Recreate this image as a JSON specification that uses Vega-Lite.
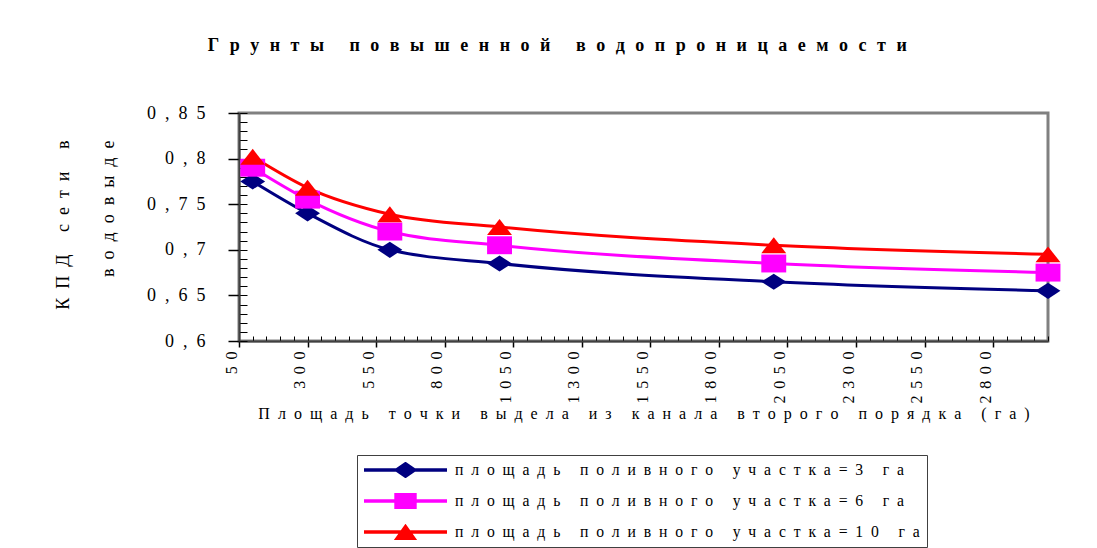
{
  "$schema": "https://vega.github.io/schema/vega-lite/v6.json",
  "width": 809,
  "height": 228,
  "autosize": {"type": "none"},
  "padding": {"left": 239, "top": 113, "right": 49, "bottom": 207},
  "background": "white",
  "title": {
    "text": {"expr": "join(split('Грунты повышенной водопроницаемости', ''), '\u2004\u2005')"},
    "font": "Liberation Serif",
    "fontSize": 18,
    "fontWeight": "bold",
    "color": "black",
    "anchor": "middle",
    "frame": "bounds",
    "offset": 49
  },
  "data": {
    "values": [
      {"x": 100, "y": 0.775, "series": "площадь поливного участка=3 га"},
      {"x": 300, "y": 0.74, "series": "площадь поливного участка=3 га"},
      {"x": 600, "y": 0.70, "series": "площадь поливного участка=3 га"},
      {"x": 1000, "y": 0.685, "series": "площадь поливного участка=3 га"},
      {"x": 2000, "y": 0.665, "series": "площадь поливного участка=3 га"},
      {"x": 3000, "y": 0.655, "series": "площадь поливного участка=3 га"},
      {"x": 100, "y": 0.79, "series": "площадь поливного участка=6 га"},
      {"x": 300, "y": 0.755, "series": "площадь поливного участка=6 га"},
      {"x": 600, "y": 0.72, "series": "площадь поливного участка=6 га"},
      {"x": 1000, "y": 0.705, "series": "площадь поливного участка=6 га"},
      {"x": 2000, "y": 0.685, "series": "площадь поливного участка=6 га"},
      {"x": 3000, "y": 0.675, "series": "площадь поливного участка=6 га"},
      {"x": 100, "y": 0.802, "series": "площадь поливного участка=10 га"},
      {"x": 300, "y": 0.768, "series": "площадь поливного участка=10 га"},
      {"x": 600, "y": 0.739, "series": "площадь поливного участка=10 га"},
      {"x": 1000, "y": 0.725, "series": "площадь поливного участка=10 га"},
      {"x": 2000, "y": 0.705, "series": "площадь поливного участка=10 га"},
      {"x": 3000, "y": 0.695, "series": "площадь поливного участка=10 га"}
    ]
  },
  "layer": [
    {
      "mark": {"type": "line", "interpolate": "monotone", "strokeWidth": 3},
      "encoding": {
        "x": {
          "field": "x", "type": "quantitative",
          "scale": {"domain": [50, 3000], "nice": false, "zero": false},
          "axis": {
            "orient": "bottom",
            "values": [50,100,150,200,250,300,350,400,450,500,550,600,650,700,750,800,850,900,950,1000,1050,1100,1150,1200,1250,1300,1350,1400,1450,1500,1550,1600,1650,1700,1750,1800,1850,1900,1950,2000,2050,2100,2150,2200,2250,2300,2350,2400,2450,2500,2550,2600,2650,2700,2750,2800,2850,2900,2950,3000],
            "tickSize": -5, "tickWidth": 1, "tickColor": "black",
            "labels": false, "domain": false, "title": null, "grid": false
          }
        },
        "y": {
          "field": "y", "type": "quantitative",
          "scale": {"domain": [0.6, 0.85], "nice": false, "zero": false},
          "axis": {
            "orient": "left",
            "values": [0.6,0.61,0.62,0.63,0.64,0.65,0.66,0.67,0.68,0.69,0.7,0.71,0.72,0.73,0.74,0.75,0.76,0.77,0.78,0.79,0.8,0.81,0.82,0.83,0.84,0.85],
            "tickSize": -8, "tickWidth": 1, "tickColor": "black",
            "labels": false, "domain": false, "title": null, "grid": false
          }
        },
        "color": {
          "field": "series", "type": "nominal",
          "scale": {
            "domain": ["площадь поливного участка=3 га", "площадь поливного участка=6 га", "площадь поливного участка=10 га"],
            "range": ["#000080", "#FF00FF", "#FF0000"]
          },
          "legend": null
        }
      }
    },
    {
      "mark": {"type": "point", "filled": true, "size": 620, "opacity": 1, "strokeWidth": 0},
      "encoding": {
        "x": {
          "field": "x", "type": "quantitative",
          "axis": {
            "orient": "bottom",
            "values": [50,300,550,800,1050,1300,1550,1800,2050,2300,2550,2800],
            "tickSize": 6, "tickWidth": 1.5, "tickColor": "black",
            "domain": true, "domainColor": "#404040", "domainWidth": 2,
            "labelAngle": 270, "labelAlign": "right", "labelBaseline": "alphabetic",
            "labelPadding": 4, "labelOffset": -3,
            "labelFont": "Liberation Serif", "labelFontSize": 16, "labelColor": "black",
            "labelExpr": "join(split(format(datum.value, 'd'), ''), '\u2005\u2006')",
            "labelOverlap": false, "labelFlush": false, "labelBound": false,
            "grid": false,
            "title": "П\u2002л\u2002о\u2002щ\u2002а\u2002д\u2002ь\u2002 \u2002т\u2002о\u2002ч\u2002к\u2002и\u2002 \u2002в\u2002ы\u2002д\u2002е\u2002л\u2002а\u2002 \u2002и\u2002з\u2002 \u2002к\u2002а\u2002н\u2002а\u2002л\u2002а\u2002 \u2002в\u2002т\u2002о\u2002р\u2002о\u2002г\u2002о\u2002 \u2002п\u2002о\u2002р\u2002я\u2002д\u2002к\u2002а\u2002 \u2002(\u2002г\u2002а\u2002)",
            "titleFont": "Liberation Serif", "titleFontSize": 16, "titleFontWeight": "normal",
            "titleColor": "black", "titlePadding": 3
          }
        },
        "y": {
          "field": "y", "type": "quantitative",
          "axis": {
            "orient": "left",
            "values": [0.6, 0.65, 0.7, 0.75, 0.8, 0.85],
            "tickSize": 11, "tickWidth": 1.5, "tickColor": "black",
            "domain": true, "domainColor": "#404040", "domainWidth": 2,
            "labelPadding": 23, "labelBaseline": "middle",
            "labelFont": "Liberation Serif", "labelFontSize": 18, "labelColor": "black",
            "labelExpr": "join(split(replace(format(datum.value, '.2~f'), '.', ','), ''), '\u2004\u2006')",
            "labelOverlap": false, "labelFlush": false,
            "grid": false,
            "title": ["К\u2002П\u2002Д\u2002 \u2002с\u2002е\u2002т\u2002и\u2002 \u2002в", "в\u2002о\u2002д\u2002о\u2002в\u2002ы\u2002д\u2002е"],
            "titleAngle": 270, "titleAlign": "right", "titleBaseline": "alphabetic",
            "titleX": -171, "titleY": 27, "titleLineHeight": 45,
            "titleFont": "Liberation Serif", "titleFontSize": 18, "titleFontWeight": "normal",
            "titleColor": "black"
          }
        },
        "color": {"field": "series", "type": "nominal", "legend": null},
        "shape": {
          "field": "series", "type": "nominal",
          "scale": {
            "domain": ["площадь поливного участка=3 га", "площадь поливного участка=6 га", "площадь поливного участка=10 га"],
            "range": ["M-1,0L0,-0.65L1,0L0,0.65Z", "M-1,-0.72H1V0.72H-1Z", "M-1,0.64L0,-0.64L1,0.64Z"]
          },
          "legend": null
        }
      }
    },
    {
      "mark": {"type": "point", "filled": true, "size": 100, "opacity": 0, "strokeWidth": 0},
      "encoding": {
        "x": {"field": "x", "type": "quantitative", "axis": null},
        "y": {"field": "y", "type": "quantitative", "axis": null},
        "color": {
          "field": "series", "type": "nominal",
          "legend": {
            "title": null, "orient": "none", "legendX": 118, "legendY": 342,
            "direction": "vertical", "padding": 7,
            "strokeColor": "#404040", "fillColor": "white",
            "symbolSize": 6889, "symbolStrokeWidth": 0, "symbolOpacity": 1,
            "clipHeight": 16, "rowPadding": 15, "labelOffset": 8,
            "labelFont": "Liberation Serif", "labelFontSize": 15.7, "labelColor": "black",
            "labelLimit": 0,
            "labelExpr": "join(split(datum.label, ''), '\u2002') + '\u2003\u2002'"
          }
        },
        "shape": {
          "field": "series", "type": "nominal",
          "scale": {
            "domain": ["площадь поливного участка=3 га", "площадь поливного участка=6 га", "площадь поливного участка=10 га"],
            "range": [
              "M-1,-0.045H1V0.045H-1Z M-0.29,0L0,-0.2L0.29,0L0,0.2Z",
              "M-1,-0.045H1V0.045H-1Z M-0.27,-0.19H0.27V0.19H-0.27Z",
              "M-1,-0.045H1V0.045H-1Z M-0.28,0.19L0,-0.2L0.28,0.19Z"
            ]
          },
          "legend": {
            "title": null, "orient": "none", "legendX": 118, "legendY": 342,
            "direction": "vertical", "padding": 7,
            "strokeColor": "#404040", "fillColor": "white",
            "symbolSize": 6889, "symbolStrokeWidth": 0, "symbolOpacity": 1,
            "clipHeight": 16, "rowPadding": 15, "labelOffset": 8,
            "labelFont": "Liberation Serif", "labelFontSize": 15.7, "labelColor": "black",
            "labelLimit": 0,
            "labelExpr": "join(split(datum.label, ''), '\u2002') + '\u2003\u2002'"
          }
        }
      }
    }
  ],
  "resolve": {
    "axis": {"x": "independent", "y": "independent"},
    "scale": {"shape": "independent"},
    "legend": {"color": "independent", "shape": "independent"}
  },
  "config": {
    "view": {"stroke": "#808080", "strokeWidth": 3},
    "axis": {"grid": false, "labelFont": "Liberation Serif", "titleFont": "Liberation Serif"},
    "legend": {"symbolStrokeWidth": 0}
  }
}
